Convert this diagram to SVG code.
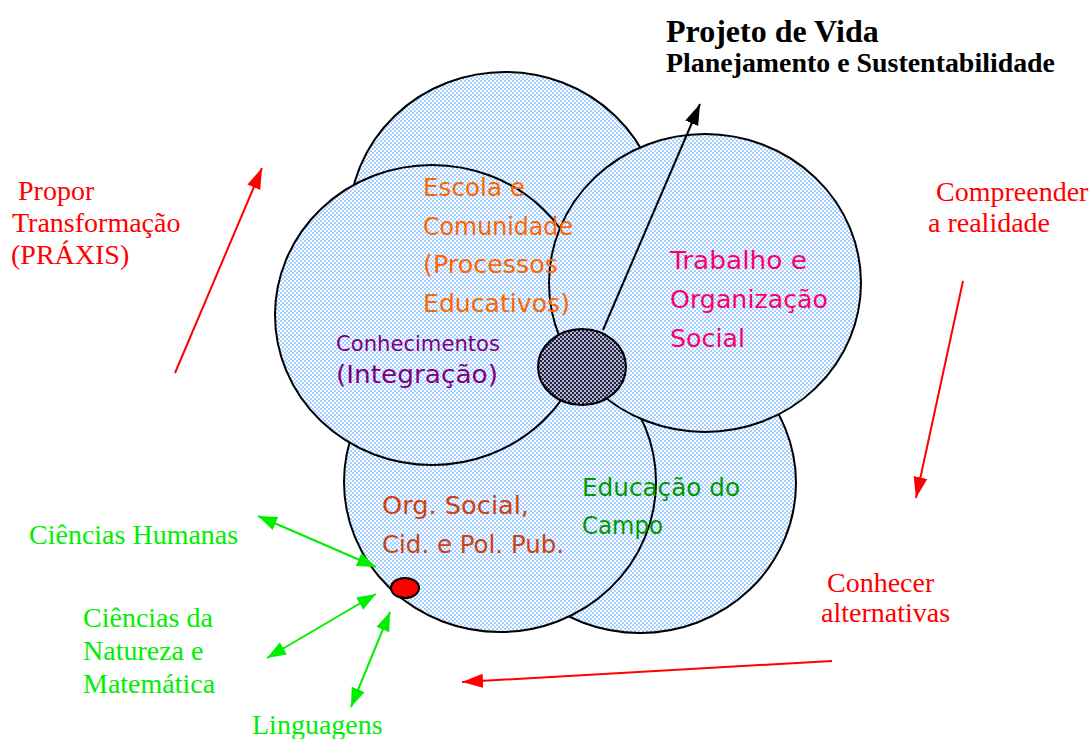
<svg xmlns="http://www.w3.org/2000/svg" width="1089" height="739" viewBox="0 0 1089 739">
<defs>
<pattern id="blue" width="4" height="4" patternUnits="userSpaceOnUse">
<rect width="4" height="4" fill="#ffffff"/>
<rect width="2" height="2" fill="#a6d0ff"/>
<rect x="2" y="2" width="2" height="2" fill="#a6d0ff"/>
</pattern>
<pattern id="dark" width="4" height="4" patternUnits="userSpaceOnUse">
<rect width="4" height="4" fill="#b8b8cc"/>
<rect width="2" height="2" fill="#222248"/>
<rect x="2" y="2" width="2" height="2" fill="#222248"/>
</pattern>
<marker id="ar" markerUnits="userSpaceOnUse" markerWidth="22" markerHeight="16" refX="21" refY="8" orient="auto-start-reverse" viewBox="0 0 22 16">
<path d="M0,1 L21,8 L0,15 z" fill="#ff0000"/>
</marker>
<marker id="ag" markerUnits="userSpaceOnUse" markerWidth="20" markerHeight="16" refX="19" refY="8" orient="auto-start-reverse" viewBox="0 0 20 16">
<path d="M0,1 L19,8 L0,15 z" fill="#00ee00"/>
</marker>
<marker id="ak" markerUnits="userSpaceOnUse" markerWidth="22" markerHeight="16" refX="21" refY="8" orient="auto" viewBox="0 0 22 16">
<path d="M0,1 L21,8 L0,15 z" fill="#000000"/>
</marker>
</defs>
<style>
.c{fill:url(#blue);stroke:#000;stroke-width:2}
.s{font-family:"DejaVu Sans","Liberation Sans",sans-serif;font-size:25px}
.t{font-family:"Liberation Serif","Times New Roman",serif;font-size:28px}
.red{fill:#ff0000}
.grn{fill:#00ee00}
.rl{stroke:#ff0000;stroke-width:2;fill:none}
.gl{stroke:#00ee00;stroke-width:2;fill:none}
</style>
<rect width="1089" height="739" fill="#ffffff"/>

<g id="circle-top"><ellipse class="c" cx="505" cy="222" rx="156" ry="150"/></g>
<g id="circle-bottom-right"><ellipse class="c" cx="640" cy="483" rx="156" ry="150"/></g>
<g id="circle-bottom-left"><ellipse class="c" cx="500" cy="482" rx="156" ry="150"/></g>
<g id="circle-left"><ellipse class="c" cx="432" cy="315" rx="157" ry="150"/></g>
<g id="circle-right"><ellipse class="c" cx="705" cy="283" rx="156" ry="149"/></g>

<g id="connectors">
<line x1="603" y1="330" x2="700" y2="104" stroke="#000" stroke-width="2" marker-end="url(#ak)"/>
<line class="rl" x1="175" y1="373" x2="262" y2="168" marker-end="url(#ar)"/>
<line class="rl" x1="963" y1="281" x2="916" y2="498" marker-end="url(#ar)"/>
<line class="rl" x1="832" y1="661" x2="462" y2="682" marker-end="url(#ar)"/>
<line class="gl" x1="258" y1="516" x2="376" y2="567" marker-start="url(#ag)" marker-end="url(#ag)"/>
<line class="gl" x1="267" y1="658" x2="376" y2="594" marker-start="url(#ag)" marker-end="url(#ag)"/>
<line class="gl" x1="351" y1="707" x2="390" y2="612" marker-start="url(#ag)" marker-end="url(#ag)"/>
</g>

<g id="center"><ellipse cx="582" cy="367" rx="44" ry="38" fill="url(#dark)" stroke="#000" stroke-width="2"/></g>
<g id="red-dot"><ellipse cx="405" cy="588" rx="14" ry="10" fill="#ff0000" stroke="#000" stroke-width="2"/></g>

<g id="label-escola" class="s" fill="#ff6600">
<text x="423" y="196" textLength="102" lengthAdjust="spacingAndGlyphs">Escola e</text>
<text x="423" y="235" textLength="150" lengthAdjust="spacingAndGlyphs">Comunidade</text>
<text x="423" y="273" textLength="135" lengthAdjust="spacingAndGlyphs">(Processos</text>
<text x="423" y="312" textLength="147" lengthAdjust="spacingAndGlyphs">Educativos)</text>
</g>
<g id="label-conhecimentos" class="s" fill="#800080">
<text x="336" y="351" style="font-size:22px" textLength="164" lengthAdjust="spacingAndGlyphs">Conhecimentos</text>
<text x="336" y="383" style="font-size:25px" textLength="162" lengthAdjust="spacingAndGlyphs">(Integração)</text>
</g>
<g id="label-trabalho" class="s" fill="#ff0066">
<text x="670" y="269" textLength="137" lengthAdjust="spacingAndGlyphs">Trabalho e</text>
<text x="670" y="308" textLength="158" lengthAdjust="spacingAndGlyphs">Organização</text>
<text x="670" y="347" textLength="75" lengthAdjust="spacingAndGlyphs">Social</text>
</g>
<g id="label-org" class="s" fill="#d04010">
<text x="382" y="514" textLength="147" lengthAdjust="spacingAndGlyphs">Org. Social,</text>
<text x="382" y="553" textLength="182" lengthAdjust="spacingAndGlyphs">Cid. e Pol. Pub.</text>
</g>
<g id="label-educacao" class="s" fill="#009900">
<text x="582" y="496" textLength="158" lengthAdjust="spacingAndGlyphs">Educação do</text>
<text x="582" y="534" textLength="81" lengthAdjust="spacingAndGlyphs">Campo</text>
</g>

<g id="title" font-family="Liberation Serif,Times New Roman,serif" font-weight="bold" fill="#000">
<text x="666" y="42" font-size="32">Projeto de Vida</text>
<text x="666" y="72" font-size="28" textLength="389" lengthAdjust="spacingAndGlyphs">Planejamento e Sustentabilidade</text>
</g>

<g id="label-propor" class="t red">
<text x="18" y="200">Propor</text>
<text x="12" y="232">Transformação</text>
<text x="11" y="264">(PRÁXIS)</text>
</g>
<g id="label-compreender" class="t red">
<text x="936" y="201">Compreender</text>
<text x="928" y="232">a realidade</text>
</g>
<g id="label-conhecer" class="t red">
<text x="827" y="592">Conhecer</text>
<text x="821" y="622">alternativas</text>
</g>
<g id="label-humanas" class="t grn"><text x="29" y="544">Ciências Humanas</text></g>
<g id="label-natureza" class="t grn">
<text x="83" y="627">Ciências da</text>
<text x="83" y="660">Natureza e</text>
<text x="83" y="693">Matemática</text>
</g>
<g id="label-linguagens" class="t grn"><text x="252" y="734">Linguagens</text></g>
</svg>
